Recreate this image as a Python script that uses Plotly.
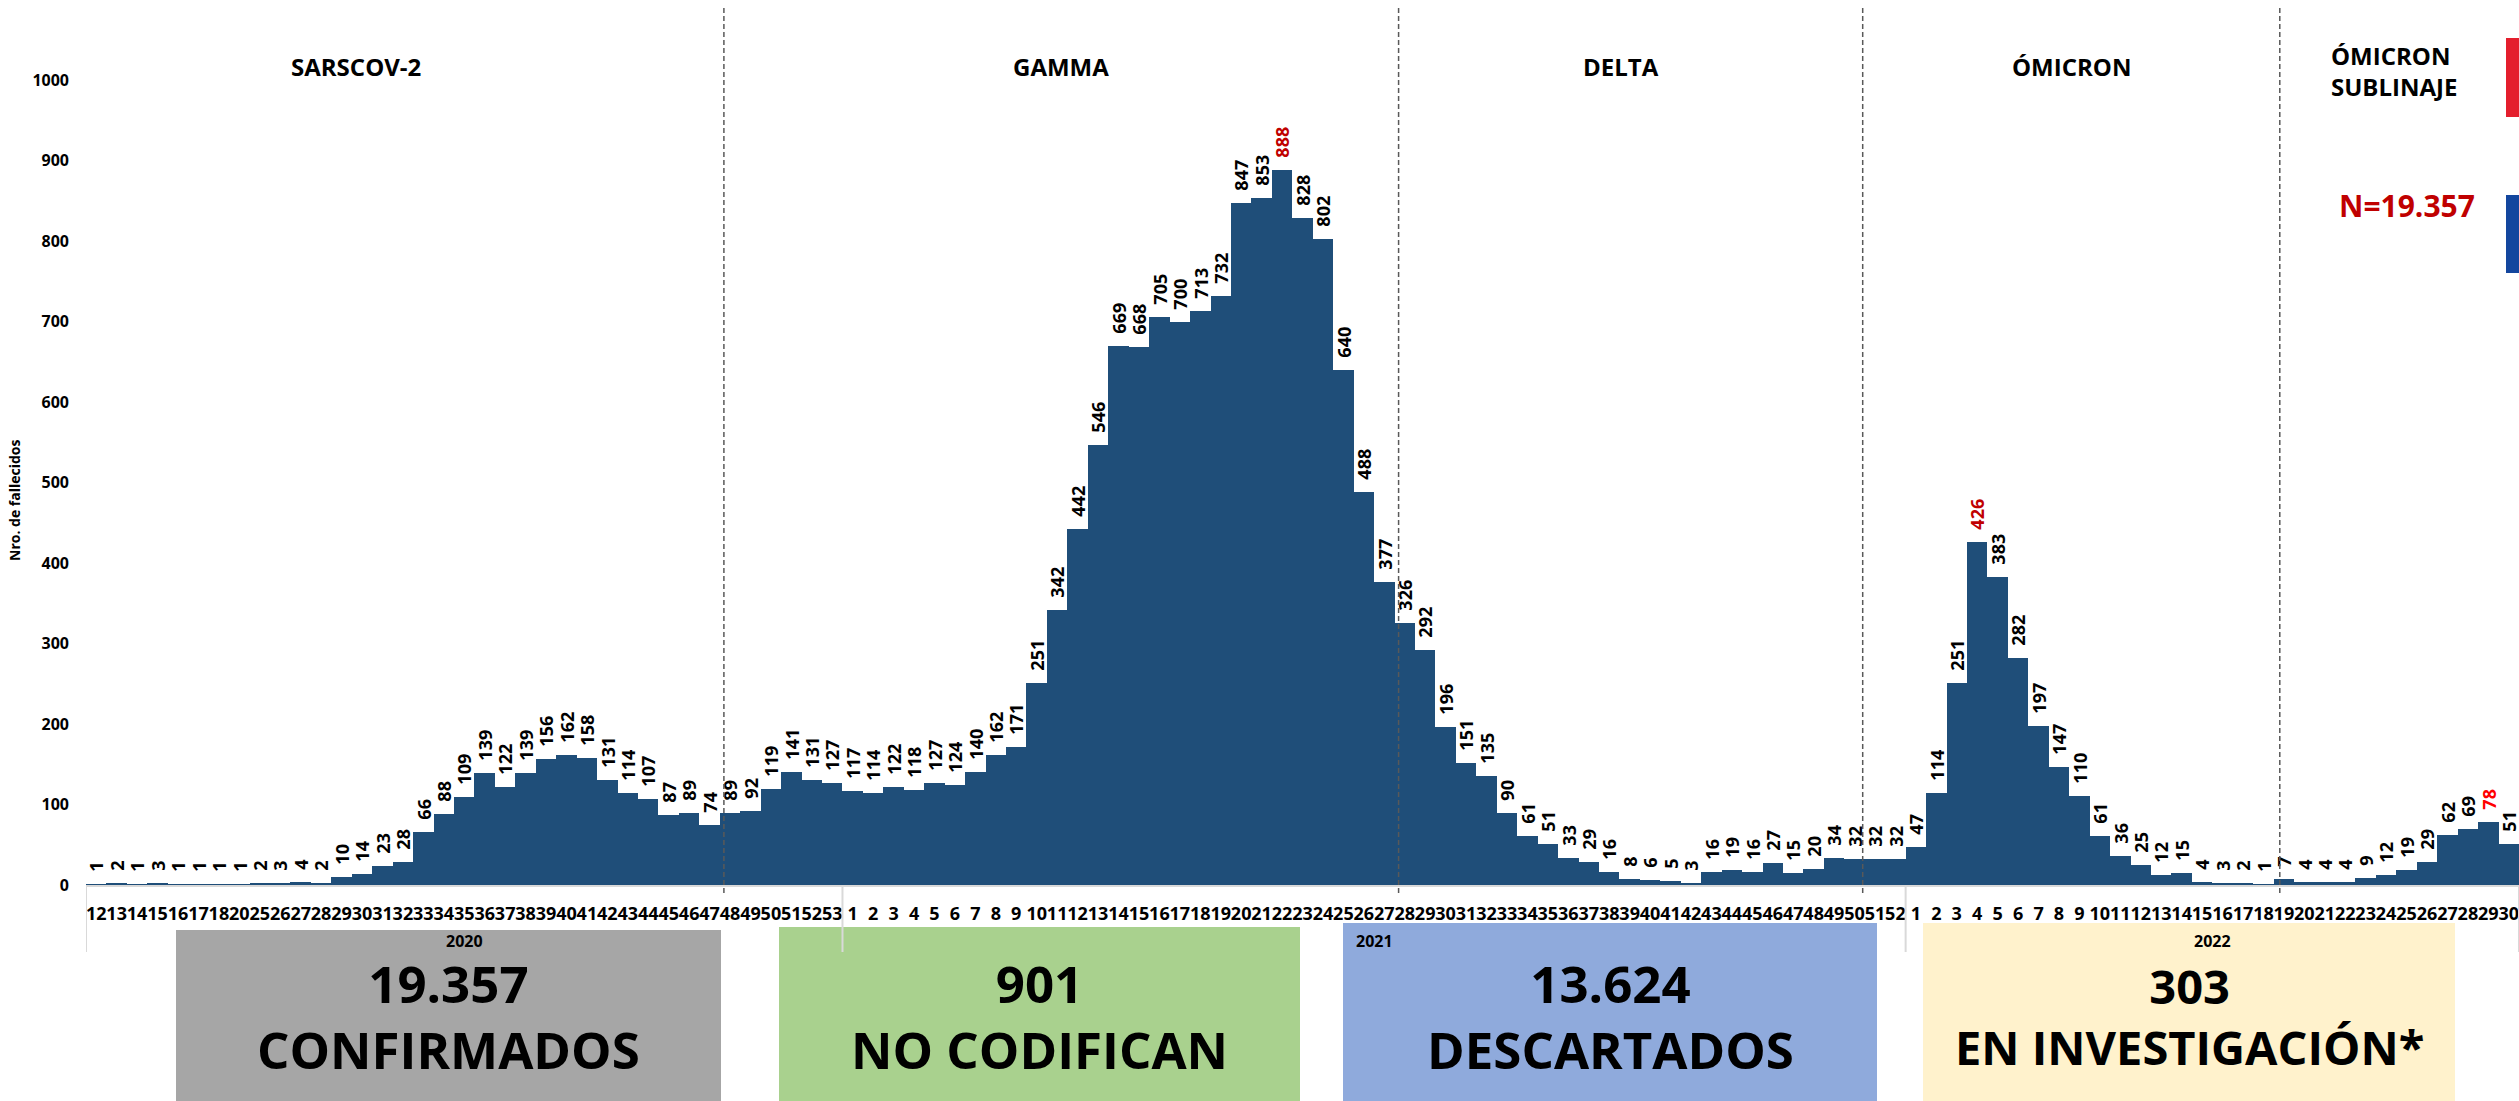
import plotly.graph_objects as go

# ---------------- data ----------------
weeks_2020 = [12, 13, 14, 15, 16, 17, 18, 20, 25, 26, 27, 28, 29, 30, 31, 32, 33, 34, 35, 36,
              37, 38, 39, 40, 41, 42, 43, 44, 45, 46, 47, 48, 49, 50, 51, 52, 53]
deaths_2020 = [1, 2, 1, 3, 1, 1, 1, 1, 2, 3, 4, 2, 10, 14, 23, 28, 66, 88, 109, 139,
               122, 139, 156, 162, 158, 131, 114, 107, 87, 89, 74, 89, 92, 119, 141, 131, 127]

weeks_2021 = [1, 2, 3, 4, 5, 6, 7, 8, 9, 10, 11, 12, 13, 14, 15, 16, 17, 18, 19, 20,
              21, 22, 23, 24, 25, 26, 27, 28, 29, 30, 31, 32, 33, 34, 35, 36, 37, 38, 39, 40,
              41, 42, 43, 44, 45, 46, 47, 48, 49, 50, 51, 52]
deaths_2021 = [117, 114, 122, 118, 127, 124, 140, 162, 171, 251, 342, 442, 546, 669, 668, 705, 700, 713, 732, 847,
               853, 888, 828, 802, 640, 488, 377, 326, 292, 196, 151, 135, 90, 61, 51, 33, 29, 16, 8, 6,
               5, 3, 16, 19, 16, 27, 15, 20, 34, 32, 32, 32]

weeks_2022 = [1, 2, 3, 4, 5, 6, 7, 8, 9, 10, 11, 12, 13, 14, 15, 16, 17, 18, 19, 20,
              21, 22, 23, 24, 25, 26, 27, 28, 29, 30]
deaths_2022 = [47, 114, 251, 426, 383, 282, 197, 147, 110, 61, 36, 25, 12, 15, 4, 3, 2, 1, 7, 4,
               4, 4, 9, 12, 19, 29, 62, 69, 78, 51]

years = ["2020", "2021", "2022"]
highlight_labels = {("2021", 22): "#C00000", ("2022", 4): "#C00000", ("2022", 29): "#FF0000"}

periods = ["SARSCOV-2", "GAMMA", "DELTA", "ÓMICRON"]
summary_values = ["19.357", "901", "13.624", "303"]
summary_labels = ["CONFIRMADOS", "NO CODIFICAN", "DESCARTADOS", "EN INVESTIGACIÓN*"]
total_label = "N=19.357"
y_ticks = [0, 100, 200, 300, 400, 500, 600, 700, 800, 900, 1000]

# ---------------- build ----------------
week_lists = [weeks_2020, weeks_2021, weeks_2022]
death_lists = [deaths_2020, deaths_2021, deaths_2022]
xs, ys, ticktext, label_colors = [], [], [], []
for yr, wk, dv in zip(years, week_lists, death_lists):
    for w, d in zip(wk, dv):
        xs.append(len(xs))
        ys.append(d)
        ticktext.append(str(w))
        label_colors.append(highlight_labels.get((yr, w), "#000000"))

NB = "\u00a0\u00a0"
bar_text = [NB + str(v) for v in ys]

W, H = 2519, 1101
ML, MR, MT = 86, 0, 8
AXIS_Y = 885                 # zero line, page pixels
MB = H - AXIS_Y
PW, PH = W - ML - MR, H - MT - MB
PX_PER_UNIT = 0.805
ymax = PH / PX_PER_UNIT


def py(p):  # page pixel y -> paper y
    return (AXIS_Y - p) / PH


def px(p):  # page pixel x -> paper x
    return (p - ML) / PW


fig = go.Figure()
fig.add_trace(go.Bar(
    x=xs, y=ys,
    marker=dict(color="#1F4E79", line=dict(width=0)),
    text=bar_text,
    textposition="outside",
    textangle=-90,
    constraintext="none",
    cliponaxis=False,
    textfont=dict(family="Open Sans", size=18, color=label_colors, weight="bold"),
    hoverinfo="x+y",
    showlegend=False,
))

shapes = []
annotations = []

# summary boxes below the axis
box_px = [(176, 721, 930), (779, 1300, 927), (1343, 1877, 923), (1923, 2455, 923)]
box_colors = ["#A6A6A6", "#A9D18E", "#8FAADC", "#FFF2CC"]
box_font = [51, 51, 51, 47]
for (x0, x1, top), col, val, lab, fs in zip(box_px, box_colors, summary_values, summary_labels, box_font):
    shapes.append(dict(type="rect", xref="paper", yref="paper",
                       x0=px(x0), x1=px(x1), y0=py(1115), y1=py(top),
                       fillcolor=col, line=dict(width=0), layer="above"))
    annotations.append(dict(xref="paper", yref="paper", x=px((x0 + x1) / 2), y=py(1016),
                            text=f"{val}<br>{lab}", showarrow=False, xanchor="center", yanchor="middle",
                            align="center",
                            font=dict(family="Open Sans", size=fs, color="#000000", weight="bold")))

# category group separators (multi-level axis)
n2020, n2021, n2022 = len(weeks_2020), len(weeks_2021), len(weeks_2022)
group_edges = [-0.5, n2020 - 0.5, n2020 + n2021 - 0.5, n2020 + n2021 + n2022 - 0.5]
for gx in group_edges:
    shapes.append(dict(type="line", xref="x", yref="paper", x0=gx, x1=gx, y0=0, y1=py(952),
                       line=dict(color="#D9D9D9", width=2), layer="above"))

# year labels
starts = [0, n2020, n2020 + n2021]
counts = [n2020, n2021, n2022]
for yr, s, c in zip(years, starts, counts):
    annotations.append(dict(xref="x", yref="paper", x=s + (c - 1) / 2, y=py(941), text=yr,
                            showarrow=False, xanchor="center", yanchor="middle",
                            font=dict(family="Open Sans", size=16, color="#000000", weight="bold")))

# period dividers (dashed)
dividers = [30.7, 63.7, 86.4, 106.8]
for dx in dividers:
    shapes.append(dict(type="line", xref="x", yref="paper", x0=dx, x1=dx, y0=py(893), y1=py(8),
                       line=dict(color="#595959", width=1.5, dash="5px,3px"), layer="above"))

# period titles
title_x = [12.7, 47.2, 74.6, 96.6]
for t, tx in zip(periods, title_x):
    annotations.append(dict(xref="x", yref="paper", x=tx, y=py(66), text=t, showarrow=False,
                            xanchor="center", yanchor="middle",
                            font=dict(family="Open Sans", size=24, color="#000000", weight="bold")))
annotations.append(dict(xref="paper", yref="paper", x=px(2329), y=py(71),
                        text="ÓMICRON<br>SUBLINAJE", showarrow=False, xanchor="left", yanchor="middle",
                        align="left",
                        font=dict(family="Open Sans", size=24, color="#000000", weight="bold")))
annotations.append(dict(xref="paper", yref="paper", x=px(2407), y=py(205), text=total_label,
                        showarrow=False, xanchor="center", yanchor="middle",
                        font=dict(family="Open Sans", size=30, color="#C00000", weight="bold")))

# cut-off legend swatches at the right edge
shapes.append(dict(type="rect", xref="paper", yref="paper", x0=px(2506), x1=1.0,
                   y0=py(117), y1=py(38), fillcolor="#E41E2D", line=dict(width=0), layer="above"))
shapes.append(dict(type="rect", xref="paper", yref="paper", x0=px(2506), x1=1.0,
                   y0=py(273), y1=py(195), fillcolor="#13469E", line=dict(width=0), layer="above"))

# y-axis title
annotations.append(dict(xref="paper", yref="paper", x=px(14), y=py(501), text="Nro. de fallecidos",
                        textangle=-90, showarrow=False, xanchor="center", yanchor="middle",
                        font=dict(family="Open Sans", size=14, color="#000000", weight="bold")))

fig.update_layout(
    width=W, height=H,
    margin=dict(l=ML, r=MR, t=MT, b=MB, pad=0),
    paper_bgcolor="#FFFFFF", plot_bgcolor="#FFFFFF",
    bargap=0,
    shapes=shapes,
    annotations=annotations,
    showlegend=False,
    xaxis=dict(
        range=[-0.5, len(xs) - 0.5],
        tickmode="array", tickvals=xs, ticktext=ticktext, tickangle=0,
        tickfont=dict(family="Open Sans", size=18, color="#000000", weight="bold"),
        showgrid=False, zeroline=False,
        showline=True, linecolor="#D9D9D9", linewidth=2,
        ticks="", ticklabelstandoff=11, ticklabeloverflow="allow",
    ),
    yaxis=dict(
        range=[0, ymax],
        tickmode="array", tickvals=y_ticks,
        tickfont=dict(family="Open Sans", size=16, color="#000000", weight="bold"),
        showgrid=False, zeroline=False, showline=False,
        ticks="", ticklabelstandoff=16,
    ),
)

fig.write_html(
    "out.html",
    config=dict(displayModeBar=False),
    post_script="document.body.style.margin='0';document.body.style.overflow='hidden';",
)
